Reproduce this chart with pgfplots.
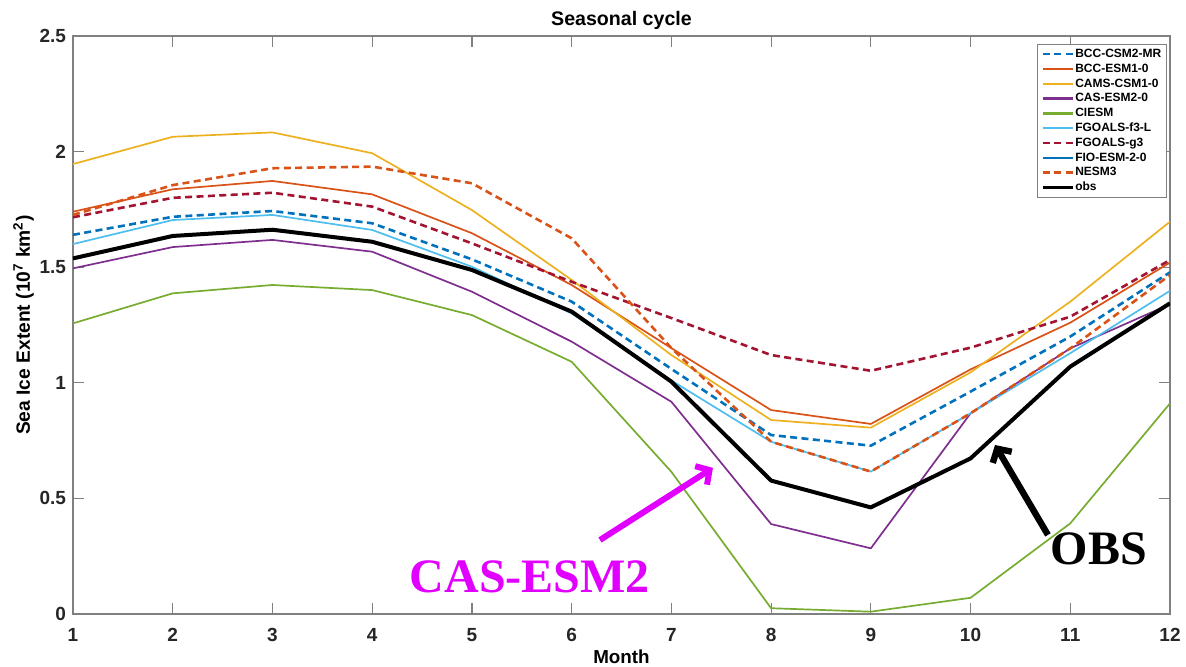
\documentclass[border=0pt]{standalone}
\usepackage{fontspec}
\setmainfont{Liberation Sans}
\newfontfamily\timesfont{Liberation Serif}
\usepackage{pgfplots}
\usepackage{pgfplotstable}
\pgfplotsset{compat=1.18}
\usetikzlibrary{arrows.meta}
\definecolor{mblue}{rgb}{0,0.447,0.741}
\definecolor{morange}{rgb}{0.85,0.325,0.098}
\definecolor{myellow}{rgb}{0.929,0.694,0.125}
\definecolor{mpurple}{rgb}{0.494,0.184,0.556}
\definecolor{mgreen}{rgb}{0.466,0.674,0.188}
\definecolor{mlblue}{rgb}{0.301,0.745,0.933}
\definecolor{mdred}{rgb}{0.635,0.078,0.184}
\definecolor{axisgray}{rgb}{0.5,0.5,0.5}
\definecolor{annmag}{RGB}{225,0,255}
\pgfplotstableread{
m obs csm esm cams cas ciesm f3l g3 nesm
1 1.538 1.640 1.740 1.946 1.495 1.257 1.600 1.716 1.726
2 1.635 1.718 1.837 2.064 1.587 1.387 1.704 1.800 1.855
3 1.662 1.743 1.873 2.083 1.618 1.423 1.726 1.822 1.928
4 1.610 1.690 1.815 1.993 1.567 1.401 1.661 1.762 1.935
5 1.488 1.534 1.647 1.747 1.394 1.293 1.502 1.603 1.863
6 1.308 1.351 1.423 1.445 1.178 1.091 1.300 1.437 1.625
7 1.005 1.060 1.150 1.120 0.918 0.615 1.010 1.280 1.150
8 0.577 0.774 0.882 0.839 0.389 0.025 0.745 1.120 0.745
9 0.461 0.728 0.822 0.806 0.284 0.010 0.616 1.052 0.616
10 0.673 0.962 1.058 1.045 0.868 0.070 0.868 1.152 0.868
11 1.070 1.200 1.260 1.351 1.149 0.392 1.128 1.286 1.149
12 1.344 1.478 1.520 1.697 1.340 0.911 1.398 1.531 1.466
}\datatable
\begin{document}
\begin{tikzpicture}
\begin{axis}[
  scale only axis, width=548.5pt, height=289pt,
  xmin=1, xmax=12, ymin=0, ymax=2.5,
  xtick={1,2,3,4,5,6,7,8,9,10,11,12},
  ytick={0,0.5,1,1.5,2,2.5},
  yticklabels={0,0.5,1,1.5,2,2.5},
  /pgf/number format/assume math mode=true,
  tick label style={font=\fontsize{9.5}{11}\selectfont\bfseries, text=black!85},
  xticklabel style={yshift=-3.5pt},
  tick align=inside, major tick length=5.5pt,
  axis line style={axisgray, line width=0.6pt},
  tick style={axisgray, line width=0.6pt},
  title={Seasonal cycle},
  title style={font=\fontsize{9.8}{12}\selectfont\bfseries, at={(axis description cs:0.5,1)}, anchor=base, yshift=-1pt},
  xlabel={Month},
  xlabel style={font=\fontsize{9.4}{11}\selectfont\bfseries, at={(axis description cs:0.5,0)}, anchor=base, yshift=-25pt},
  ylabel={Sea Ice Extent (10\textsuperscript{7} km\textsuperscript{2})},
  ylabel style={font=\fontsize{9.6}{11}\selectfont\bfseries, at={(axis description cs:-0.0392,0.5)}, anchor=base},
  legend cell align=left,
  legend style={at={(axis description cs:1,1)}, anchor=north east, xshift=-1.5pt, yshift=-4pt,
    font=\fontsize{6}{7}\selectfont\bfseries, draw=axisgray, line width=0.5pt,
    inner xsep=2pt, inner ysep=1.5pt, row sep=0.6pt,
    nodes={inner sep=0.6pt, text height=4.4pt, text depth=1.2pt}},
  legend image code/.code={\draw[#1, line width=1.2pt] (0pt,0pt) -- (15pt,0pt);},
  every axis plot/.append style={line join=round},
]
\addplot[mblue, line width=1.3pt, dash pattern=on 3.5pt off 2.2pt] table[x=m,y=csm]{\datatable};
\addlegendentry{BCC-CSM2-MR}
\addplot[morange, line width=0.85pt] table[x=m,y=esm]{\datatable};
\addlegendentry{BCC-ESM1-0}
\addplot[myellow, line width=0.85pt] table[x=m,y=cams]{\datatable};
\addlegendentry{CAMS-CSM1-0}
\addplot[mpurple, line width=0.85pt] table[x=m,y=cas]{\datatable};
\addlegendentry{CAS-ESM2-0}
\addplot[mgreen, line width=0.85pt] table[x=m,y=ciesm]{\datatable};
\addlegendentry{CIESM}
\addplot[mlblue, line width=0.85pt] table[x=m,y=f3l]{\datatable};
\addlegendentry{FGOALS-f3-L}
\addplot[mdred, line width=1.3pt, dash pattern=on 3.5pt off 2.2pt] table[x=m,y=g3]{\datatable};
\addlegendentry{FGOALS-g3}
\addlegendimage{mblue, line width=0.85pt}
\addlegendentry{FIO-ESM-2-0}
\addplot[morange, line width=1.3pt, dash pattern=on 3.5pt off 2.2pt] table[x=m,y=nesm]{\datatable};
\addlegendentry{NESM3}
\addplot[black, line width=2pt] table[x=m,y=obs]{\datatable};
\addlegendentry{obs}
\draw[annmag, line width=3pt, -{Straight Barb[length=5pt,width=11pt]}] (axis cs:6.284,0.32) -- (axis cs:7.417,0.632);
\node[annmag, anchor=base, font=\fontsize{24}{26}\selectfont\timesfont\bfseries] at (axis cs:5.582,0.095) {CAS-ESM2};
\draw[black, line width=3.2pt, -{Straight Barb[length=5pt,width=11pt]}] (axis cs:10.776,0.342) -- (axis cs:10.245,0.731);
\node[black, anchor=base, font=\fontsize{24}{26}\selectfont\timesfont\bfseries] at (axis cs:11.288,0.212) {OBS};
\end{axis}
\pgfresetboundingbox
\path[use as bounding box] ([xshift=-36.5pt,yshift=-26.5pt]current axis.south west) rectangle ([xshift=8pt,yshift=18pt]current axis.north east);
\end{tikzpicture}
\end{document}
